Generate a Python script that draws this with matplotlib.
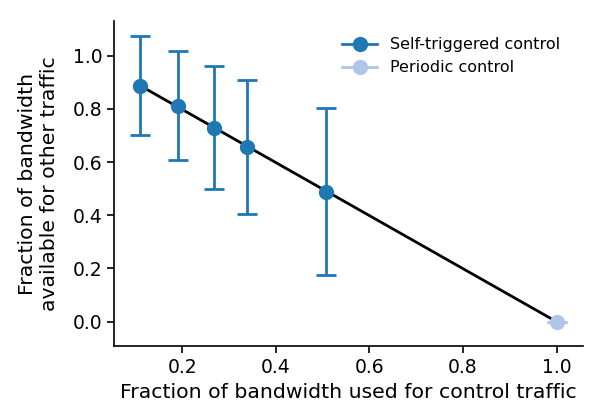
import numpy as np
import matplotlib
matplotlib.use("Agg")
import matplotlib.pyplot as plt
from matplotlib.lines import Line2D

# self-triggered control: bandwidth used vs. available, with symmetric error
st_used = [0.110, 0.190, 0.268, 0.339, 0.507]
st_avail = [0.887, 0.812, 0.729, 0.657, 0.489]
st_err = [0.187, 0.204, 0.232, 0.252, 0.314]

# periodic control uses the whole link
per_used = [1.0]
per_avail = [0.0]
per_err = [0.0]

c_st = "#1f77b4"
c_per = "#aec7e8"

fig, ax = plt.subplots(figsize=(6.02, 4.19), dpi=100)
fig.subplots_adjust(left=0.19, right=0.968, bottom=0.1735, top=0.95)

# black line from the first point down to the periodic point
ax.plot([st_used[0], per_used[0]], [st_avail[0], per_avail[0]], color="black", lw=2, zorder=2)

ax.errorbar(st_used, st_avail, yerr=st_err, fmt="o", color=c_st, ms=10,
            capsize=7.5, elinewidth=2, capthick=2, zorder=3)
ax.errorbar(per_used, per_avail, yerr=per_err, fmt="o", color=c_per, ms=10,
            capsize=7.5, elinewidth=2, capthick=2, zorder=3)

handles = [Line2D([], [], color=c_st, marker="o", ms=10, lw=2),
           Line2D([], [], color=c_per, marker="o", ms=10, lw=2)]
ax.legend(handles, ["Self-triggered control", "Periodic control"], frameon=False,
          loc="upper right", fontsize=11.5, handlelength=2.2,
          bbox_to_anchor=(0.983, 0.994))

ax.set_xlim(0.055, 1.056)
ax.set_ylim(-0.0925, 1.13)
ax.set_xticks([0.2, 0.4, 0.6, 0.8, 1.0])
ax.set_yticks([0.0, 0.2, 0.4, 0.6, 0.8, 1.0])
ax.tick_params(labelsize=13.5, width=1.2, length=5)
ax.set_xlabel("Fraction of bandwidth used for control traffic", fontsize=14.7)
ax.set_ylabel("Fraction of bandwidth\navailable for other traffic", fontsize=14.7, labelpad=10)
for s in ["top", "right"]:
    ax.spines[s].set_visible(False)
for s in ["left", "bottom"]:
    ax.spines[s].set_linewidth(1.2)

fig.savefig("out.png", dpi=100)
